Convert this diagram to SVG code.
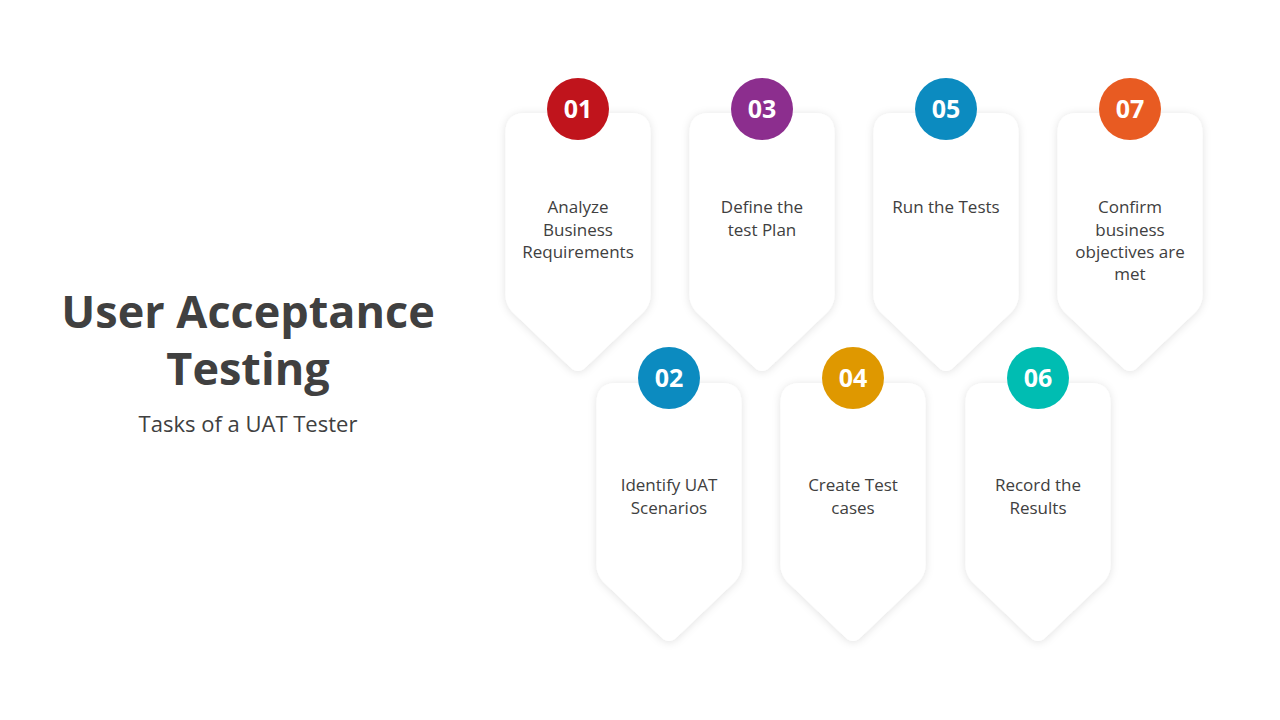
<svg xmlns="http://www.w3.org/2000/svg" xmlns:xlink="http://www.w3.org/1999/xlink" width="1280" height="720" viewBox="0 0 1280 720">
  <style>
    .title { font-family: "Open Sans", "Noto Sans", sans-serif; font-weight: 700; font-size: 45px; fill: #404040; text-anchor: middle; }
    .sub { font-family: "Open Sans", "Noto Sans", sans-serif; font-size: 22px; fill: #404040; text-anchor: middle; }
    .lbl { font-family: "Open Sans", "Noto Sans", sans-serif; font-size: 17px; fill: #404040; text-anchor: middle; }
    .num { font-family: "Open Sans", "Noto Sans", sans-serif; font-weight: 700; font-size: 25px; fill: #ffffff; text-anchor: middle; }
    .card { fill: #ffffff; filter: url(#sh); }
  </style>
  <defs>
    <filter id="sh" x="-30%" y="-20%" width="160%" height="140%">
      <feDropShadow dx="0" dy="1" stdDeviation="4" flood-color="#000000" flood-opacity="0.12"/>
    </filter>
    <path id="card" d="M -52.5,0 H 52.5 Q 72.5,0 72.5,20 V 182 Q 72.5,192 65,199.5 L 8,254 Q 0,262 -8,254 L -65,199.5 Q -72.5,192 -72.5,182 V 20 Q -72.5,0 -52.5,0 Z"/>
  </defs>
  <rect width="1280" height="720" fill="#ffffff"/>

  <g id="heading">
    <text class="title" x="248" y="328">User Acceptance</text>
    <text class="title" x="248" y="385">Testing</text>
    <text class="sub" x="248" y="432">Tasks of a UAT Tester</text>
  </g>

  <g id="connectors"></g>

  <g id="node-01">
    <use xlink:href="#card" class="card" x="578" y="113"/>
    <circle cx="578" cy="109" r="31" fill="#C0141C"/>
    <text class="num" x="578" y="118">01</text>
    <text class="lbl" x="578" y="213">Analyze</text>
    <text class="lbl" x="578" y="236">Business</text>
    <text class="lbl" x="578" y="258">Requirements</text>
  </g>
  <g id="node-03">
    <use xlink:href="#card" class="card" x="762" y="113"/>
    <circle cx="762" cy="109" r="31" fill="#8C2E8E"/>
    <text class="num" x="762" y="118">03</text>
    <text class="lbl" x="762" y="213">Define the</text>
    <text class="lbl" x="762" y="236">test Plan</text>
  </g>
  <g id="node-05">
    <use xlink:href="#card" class="card" x="946" y="113"/>
    <circle cx="946" cy="109" r="31" fill="#0C8BC0"/>
    <text class="num" x="946" y="118">05</text>
    <text class="lbl" x="946" y="213">Run the Tests</text>
  </g>
  <g id="node-07">
    <use xlink:href="#card" class="card" x="1130" y="113"/>
    <circle cx="1130" cy="109" r="31" fill="#E85B22"/>
    <text class="num" x="1130" y="118">07</text>
    <text class="lbl" x="1130" y="213">Confirm</text>
    <text class="lbl" x="1130" y="236">business</text>
    <text class="lbl" x="1130" y="258">objectives are</text>
    <text class="lbl" x="1130" y="280">met</text>
  </g>
  <g id="node-02">
    <use xlink:href="#card" class="card" x="669" y="383"/>
    <circle cx="669" cy="378" r="31" fill="#0C8BC0"/>
    <text class="num" x="669" y="387">02</text>
    <text class="lbl" x="669" y="491">Identify UAT</text>
    <text class="lbl" x="669" y="514">Scenarios</text>
  </g>
  <g id="node-04">
    <use xlink:href="#card" class="card" x="853" y="383"/>
    <circle cx="853" cy="378" r="31" fill="#DF9800"/>
    <text class="num" x="853" y="387">04</text>
    <text class="lbl" x="853" y="491">Create Test</text>
    <text class="lbl" x="853" y="514">cases</text>
  </g>
  <g id="node-06">
    <use xlink:href="#card" class="card" x="1038" y="383"/>
    <circle cx="1038" cy="378" r="31" fill="#00BDB2"/>
    <text class="num" x="1038" y="387">06</text>
    <text class="lbl" x="1038" y="491">Record the</text>
    <text class="lbl" x="1038" y="514">Results</text>
  </g>
</svg>
